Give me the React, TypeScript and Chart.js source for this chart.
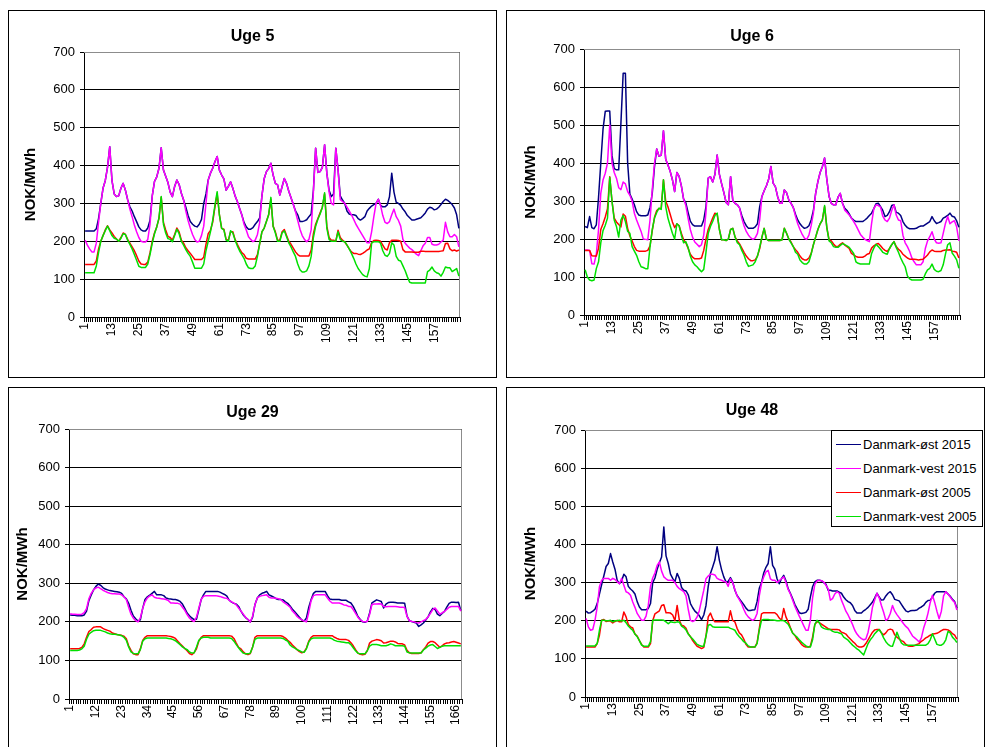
import React, { useEffect, useRef } from 'react';
import { Chart, registerables } from 'chart.js';

Chart.register(...registerables);

const FONT = 'Arial, "Liberation Sans", Helvetica, sans-serif';

// Hours of the week (categories)
const HOURS: string[] = Array.from({ length: 168 }, (_, i) => String(i + 1));

// Category labels that are printed on the x axis
const TICKS_STEP12 = ['1', '13', '25', '37', '49', '61', '73', '85', '97', '109', '121', '133', '145', '157'];
const TICKS_STEP11 = ['1', '12', '23', '34', '45', '56', '67', '78', '89', '100', '111', '122', '133', '144', '155', '166'];

const SERIES_LABELS = ['Danmark-øst 2015', 'Danmark-vest 2015', 'Danmark-øst 2005', 'Danmark-vest 2005'];
const SERIES_COLORS = ['#000080', '#FF00FF', '#FF0000', '#00E000'];

// ---- Uge 5 (NOK/MWh, hour 1..168) ----
const UGE5_OST_2015 = [
  227, 227, 227, 227, 227, 233, 260, 300, 340, 360, 395, 450, 360, 325, 318, 320, 340, 353, 335, 310, 291, 280, 265, 252,
  238, 230, 227, 227, 235, 256, 320, 358, 370, 393, 447, 388, 372, 355, 330, 318, 345, 362, 350, 327, 309, 290, 268, 252,
  245, 240, 238, 245, 258, 300, 325, 362, 380, 393, 410, 424, 388, 375, 365, 335, 345, 357, 340, 320, 305, 287, 270, 250,
  238, 232, 232, 236, 245, 252, 262, 320, 365, 384, 392, 406, 375, 353, 349, 322, 344, 366, 353, 332, 315, 298, 280, 270,
  252, 252, 254, 257, 265, 272, 335, 446, 382, 384, 395, 455, 380, 335, 318, 325, 446, 390, 320, 309, 300, 280, 272, 270,
  270, 268, 260, 256, 260, 265, 280, 287, 293, 297, 300, 311, 295, 291, 291, 296, 318, 380, 330, 303, 300, 295, 285, 278,
  268, 262, 256, 256, 258, 260, 262, 268, 275, 285, 290, 288, 283, 285, 290, 297, 305, 311, 308, 303, 297, 288, 270, 234,
];
const UGE5_VEST_2015 = [
  203, 190, 180, 172, 172, 195, 250, 300, 340, 360, 395, 450, 360, 325, 318, 320, 340, 353, 335, 310, 285, 265, 243, 225,
  210, 200, 198, 198, 205, 245, 320, 358, 370, 393, 447, 388, 372, 355, 330, 318, 345, 362, 350, 327, 309, 280, 255, 235,
  218, 205, 198, 200, 215, 240, 300, 362, 380, 393, 410, 424, 388, 375, 365, 335, 345, 357, 340, 320, 305, 287, 270, 245,
  230, 212, 205, 199, 203, 218, 250, 320, 365, 384, 392, 406, 375, 353, 349, 322, 344, 366, 353, 332, 315, 298, 278, 255,
  232, 215, 205, 199, 205, 230, 330, 446, 382, 384, 395, 455, 380, 330, 300, 296, 446, 390, 310, 305, 300, 290, 280, 270,
  258, 245, 235, 225, 215, 205, 196, 196, 225, 265, 300, 311, 295, 268, 250, 247, 252, 270, 285, 265, 255, 240, 205, 195,
  188, 182, 178, 172, 166, 162, 175, 188, 195, 210, 210, 192, 190, 190, 192, 198, 203, 250, 225, 212, 212, 218, 212, 185,
];
const UGE5_OST_2005 = [
  139, 139, 139, 139, 139, 148, 180, 200, 215, 230, 241, 230, 222, 213, 206, 200, 210, 222, 218, 205, 195, 185, 175, 162,
  148, 140, 139, 139, 145, 170, 200, 222, 238, 260, 316, 250, 230, 213, 210, 203, 218, 235, 225, 203, 195, 183, 175, 168,
  160, 152, 152, 152, 152, 158, 192, 220, 229, 250, 290, 325, 270, 234, 232, 205, 203, 225, 225, 205, 192, 180, 170, 165,
  155, 153, 153, 153, 153, 165, 194, 225, 235, 252, 270, 311, 240, 225, 203, 203, 225, 231, 215, 200, 192, 182, 172, 165,
  161, 161, 161, 161, 161, 177, 220, 245, 260, 275, 290, 325, 240, 210, 203, 203, 200, 229, 210, 203, 198, 190, 180, 172,
  168, 168, 166, 165, 168, 172, 177, 180, 196, 202, 203, 202, 200, 190, 180, 177, 196, 203, 203, 203, 202, 200, 178, 172,
  172, 172, 172, 171, 171, 171, 174, 174, 173, 173, 173, 173, 173, 173, 173, 174, 175, 194, 195, 180, 175, 177, 174, 177,
];
const UGE5_VEST_2005 = [
  117, 117, 117, 117, 117, 135, 170, 200, 215, 228, 240, 228, 215, 208, 206, 200, 208, 220, 218, 203, 192, 180, 165, 150,
  134, 131, 131, 131, 140, 165, 195, 220, 238, 262, 318, 245, 222, 207, 205, 199, 215, 232, 220, 200, 190, 178, 168, 160,
  145, 129, 129, 129, 129, 140, 175, 200, 225, 255, 295, 331, 270, 234, 230, 203, 200, 228, 222, 203, 188, 175, 165, 155,
  140, 130, 128, 128, 135, 160, 194, 225, 235, 252, 270, 316, 240, 222, 200, 200, 222, 228, 212, 196, 185, 172, 160, 140,
  125, 119, 119, 122, 135, 160, 210, 240, 258, 272, 290, 328, 235, 205, 200, 200, 200, 225, 205, 200, 199, 190, 180, 168,
  155, 140, 128, 120, 112, 108, 106, 128, 195, 199, 199, 199, 195, 175, 163, 160, 168, 196, 190, 160, 150, 148, 135, 122,
  106, 92, 90, 90, 90, 90, 90, 90, 90, 120, 124, 132, 122, 117, 115, 108, 118, 132, 130, 130, 120, 124, 128, 108,
];

// ---- Uge 6 ----
const UGE6_OST_2015 = [
  233, 230, 259, 230, 227, 237, 310, 400, 489, 536, 537, 537, 420, 385, 382, 382, 505, 636, 636, 400, 318, 305, 290, 272,
  263, 261, 261, 261, 263, 283, 320, 390, 437, 418, 420, 485, 410, 395, 378, 356, 325, 375, 365, 340, 305, 295, 270, 247,
  238, 234, 234, 234, 234, 250, 285, 360, 364, 350, 370, 421, 370, 345, 322, 296, 290, 364, 300, 294, 290, 282, 262, 246,
  235, 228, 228, 228, 232, 240, 285, 312, 327, 340, 357, 391, 347, 338, 312, 294, 294, 329, 322, 303, 294, 283, 265, 250,
  240, 233, 228, 230, 235, 250, 275, 320, 351, 375, 390, 413, 356, 312, 294, 290, 290, 310, 320, 294, 281, 275, 266, 255,
  250, 246, 246, 246, 246, 250, 255, 262, 268, 280, 293, 294, 285, 275, 259, 262, 272, 288, 290, 270, 268, 262, 246, 236,
  230, 227, 227, 227, 228, 232, 234, 234, 238, 242, 246, 259, 248, 241, 243, 246, 255, 258, 262, 268, 260, 258, 248, 231,
];
const UGE6_VEST_2015 = [
  171, 171, 170, 135, 134, 160, 225, 320, 355, 373, 400, 500, 400, 375, 360, 335, 330, 350, 345, 325, 315, 300, 268, 250,
  235, 220, 200, 199, 198, 250, 330, 400, 437, 418, 420, 485, 410, 395, 378, 356, 325, 375, 365, 340, 305, 288, 255, 225,
  205, 192, 186, 180, 185, 210, 270, 360, 364, 350, 370, 421, 370, 345, 322, 296, 290, 364, 300, 294, 290, 282, 255, 235,
  220, 210, 203, 199, 203, 215, 250, 312, 327, 340, 357, 391, 347, 338, 312, 294, 294, 329, 322, 303, 294, 283, 260, 240,
  225, 212, 202, 199, 210, 235, 268, 320, 351, 375, 390, 413, 356, 312, 294, 290, 290, 310, 320, 294, 276, 270, 263, 255,
  246, 236, 224, 212, 205, 199, 196, 193, 241, 280, 290, 288, 284, 260, 250, 246, 255, 275, 290, 263, 250, 248, 210, 190,
  180, 167, 150, 140, 132, 132, 132, 140, 175, 195, 206, 219, 200, 190, 189, 190, 215, 241, 259, 240, 245, 248, 232, 195,
];
const UGE6_OST_2005 = [
  170, 170, 170, 156, 155, 155, 175, 225, 240, 258, 280, 364, 300, 255, 245, 238, 232, 266, 260, 228, 208, 195, 180, 170,
  168, 168, 168, 168, 170, 182, 222, 257, 275, 280, 281, 356, 300, 285, 265, 245, 230, 240, 235, 215, 198, 190, 176, 160,
  152, 148, 148, 148, 150, 170, 200, 225, 240, 255, 268, 265, 225, 198, 198, 196, 200, 225, 228, 205, 195, 187, 176, 165,
  155, 148, 143, 143, 145, 155, 175, 205, 228, 200, 196, 196, 196, 196, 196, 196, 198, 228, 215, 200, 192, 180, 172, 165,
  155, 148, 145, 145, 150, 162, 185, 205, 225, 240, 250, 285, 230, 198, 195, 187, 180, 180, 186, 190, 184, 180, 175, 162,
  158, 154, 152, 152, 152, 155, 160, 162, 176, 182, 186, 188, 182, 175, 170, 167, 175, 185, 193, 180, 173, 168, 160, 155,
  150, 147, 147, 147, 146, 145, 146, 147, 152, 158, 166, 171, 168, 167, 167, 167, 170, 171, 171, 172, 168, 167, 165, 150,
];
const UGE6_VEST_2005 = [
  119, 100, 92, 90, 92, 122, 140, 190, 222, 236, 255, 362, 300, 250, 233, 205, 250, 262, 246, 220, 215, 180, 168, 157,
  140, 127, 125, 122, 122, 180, 225, 255, 270, 281, 278, 356, 285, 255, 235, 215, 200, 240, 235, 210, 190, 193, 178, 155,
  140, 132, 127, 120, 114, 120, 165, 215, 233, 246, 262, 268, 225, 198, 198, 196, 200, 225, 228, 205, 190, 185, 170, 158,
  140, 128, 130, 132, 140, 155, 178, 205, 228, 200, 196, 196, 196, 196, 196, 196, 198, 228, 215, 200, 190, 180, 165, 160,
  145, 138, 134, 134, 140, 160, 185, 205, 225, 240, 250, 288, 230, 195, 190, 180, 178, 178, 183, 188, 185, 182, 178, 170,
  162, 140, 136, 134, 134, 134, 134, 134, 162, 176, 186, 180, 173, 165, 162, 160, 175, 185, 193, 178, 165, 150, 138, 127,
  103, 95, 92, 92, 92, 92, 92, 94, 108, 119, 123, 134, 120, 115, 114, 117, 132, 160, 185, 190, 163, 155, 145, 123,
];

// ---- Uge 29 ----
const UGE29_OST_2015 = [
  218, 217, 217, 216, 216, 216, 218, 228, 255, 270, 283, 292, 298, 295, 289, 285, 283, 281, 280, 279, 278, 277, 274, 265,
  260, 248, 230, 215, 208, 202, 205, 235, 258, 265, 269, 274, 279, 270, 270, 270, 268, 262, 260, 259, 258, 258, 256, 253,
  246, 235, 223, 216, 210, 206, 207, 232, 258, 270, 279, 279, 279, 279, 279, 279, 277, 274, 271, 267, 256, 251, 248, 246,
  240, 228, 218, 211, 206, 200, 212, 245, 262, 270, 274, 276, 279, 270, 267, 264, 260, 258, 258, 257, 252, 248, 241, 233,
  226, 219, 212, 205, 202, 210, 238, 258, 274, 279, 279, 279, 279, 279, 268, 259, 258, 258, 258, 258, 256, 256, 256, 252,
  249, 240, 228, 214, 206, 200, 199, 202, 223, 249, 253, 257, 255, 253, 236, 246, 250, 251, 251, 250, 249, 249, 249, 248,
  215, 203, 201, 199, 197, 188, 192, 197, 205, 213, 226, 235, 232, 220, 216, 222, 227, 238, 248, 251, 251, 250, 251, 229,
];
const UGE29_VEST_2015 = [
  221, 220, 220, 219, 219, 220, 224, 234, 260, 274, 283, 288, 290, 286, 282, 279, 276, 274, 273, 273, 272, 272, 270, 265,
  258, 238, 220, 210, 203, 200, 210, 235, 252, 262, 267, 270, 264, 262, 261, 260, 259, 258, 255, 249, 249, 248, 248, 246,
  238, 230, 219, 210, 204, 201, 212, 236, 258, 266, 268, 268, 268, 268, 268, 267, 266, 264, 262, 261, 256, 252, 249, 244,
  236, 228, 220, 212, 206, 200, 215, 245, 262, 266, 268, 269, 270, 264, 262, 262, 261, 260, 258, 252, 248, 243, 238, 228,
  222, 214, 209, 205, 202, 200, 225, 255, 268, 270, 270, 270, 270, 270, 262, 254, 249, 249, 249, 249, 247, 244, 243, 240,
  240, 232, 222, 212, 205, 201, 200, 201, 219, 245, 246, 246, 247, 246, 240, 239, 240, 240, 240, 240, 239, 238, 238, 237,
  214, 203, 201, 200, 198, 197, 200, 203, 206, 213, 222, 232, 236, 228, 220, 223, 227, 232, 238, 240, 240, 240, 240, 228,
];
const UGE29_OST_2005 = [
  130, 130, 130, 130, 131, 134, 143, 160, 175, 180, 186, 187, 187, 187, 183, 180, 178, 176, 171, 169, 167, 166, 165, 163,
  156, 138, 126, 117, 115, 115, 130, 152, 160, 164, 164, 164, 164, 164, 164, 164, 164, 164, 163, 162, 160, 157, 150, 143,
  137, 131, 125, 118, 115, 120, 130, 150, 160, 164, 164, 164, 164, 164, 164, 164, 164, 164, 164, 164, 164, 163, 157, 145,
  134, 130, 122, 117, 115, 118, 135, 160, 164, 164, 164, 164, 164, 164, 164, 164, 164, 164, 164, 162, 158, 152, 147, 140,
  134, 128, 123, 120, 122, 132, 150, 160, 164, 164, 164, 164, 164, 164, 164, 164, 164, 160, 157, 155, 154, 154, 154, 152,
  146, 138, 128, 119, 116, 115, 116, 125, 145, 150, 152, 154, 153, 151, 145, 146, 148, 150, 150, 148, 144, 143, 143, 140,
  126, 120, 118, 118, 118, 118, 120, 128, 135, 145, 149, 149, 146, 140, 134, 138, 143, 145, 146, 148, 149, 147, 145, 143,
];
const UGE29_VEST_2005 = [
  126, 126, 126, 126, 127, 130, 137, 155, 168, 173, 177, 178, 178, 178, 176, 174, 171, 169, 168, 168, 167, 166, 164, 160,
  152, 135, 122, 118, 117, 117, 128, 150, 156, 158, 158, 158, 158, 158, 158, 158, 158, 158, 157, 156, 154, 151, 146, 141,
  135, 131, 128, 122, 119, 120, 135, 152, 158, 160, 160, 160, 158, 158, 158, 158, 158, 158, 158, 158, 158, 157, 150, 141,
  133, 125, 119, 117, 117, 119, 135, 155, 158, 158, 158, 158, 158, 158, 158, 158, 158, 158, 158, 157, 153, 150, 140, 135,
  132, 128, 125, 122, 121, 130, 148, 156, 158, 158, 158, 158, 158, 158, 158, 158, 156, 152, 150, 149, 148, 147, 146, 146,
  141, 133, 125, 119, 117, 117, 117, 125, 137, 141, 141, 141, 140, 138, 138, 138, 140, 143, 141, 138, 138, 138, 138, 137,
  122, 120, 119, 119, 119, 119, 119, 127, 132, 137, 140, 141, 136, 131, 134, 137, 138, 138, 138, 138, 138, 138, 138, 138,
];

// ---- Uge 48 ----
const UGE48_OST_2015 = [
  225, 220, 221, 225, 230, 245, 270, 295, 318, 342, 350, 376, 354, 335, 306, 297, 305, 322, 315, 290, 283, 278, 270, 250,
  236, 229, 229, 229, 232, 245, 300, 312, 335, 352, 367, 446, 370, 350, 322, 311, 302, 324, 311, 287, 280, 278, 268, 245,
  234, 225, 220, 213, 203, 215, 240, 290, 324, 341, 359, 394, 359, 334, 315, 302, 303, 313, 302, 280, 266, 258, 250, 242,
  233, 227, 227, 228, 229, 250, 285, 300, 325, 340, 350, 394, 345, 335, 310, 297, 310, 319, 305, 284, 272, 258, 243, 232,
  221, 219, 220, 222, 230, 262, 289, 302, 306, 306, 305, 300, 296, 280, 280, 278, 278, 278, 275, 272, 262, 255, 250, 247,
  240, 227, 220, 220, 220, 226, 230, 235, 242, 249, 260, 272, 262, 254, 255, 265, 272, 276, 268, 256, 254, 252, 243, 234,
  226, 223, 226, 227, 227, 228, 233, 236, 240, 248, 253, 254, 262, 272, 276, 276, 276, 276, 276, 270, 264, 256, 250, 233,
];
const UGE48_VEST_2015 = [
  206, 184, 175, 177, 201, 236, 289, 306, 311, 311, 311, 306, 311, 308, 302, 297, 311, 293, 276, 273, 267, 249, 235, 219,
  210, 201, 201, 212, 240, 290, 312, 325, 345, 354, 330, 315, 310, 306, 306, 306, 300, 290, 284, 280, 276, 265, 230, 201,
  198, 201, 210, 227, 254, 280, 310, 317, 322, 322, 320, 311, 308, 306, 303, 302, 290, 310, 300, 282, 265, 255, 245, 230,
  218, 210, 205, 201, 205, 219, 265, 297, 315, 328, 332, 310, 306, 306, 300, 305, 310, 315, 300, 282, 270, 254, 238, 225,
  212, 200, 187, 175, 175, 201, 260, 295, 304, 306, 305, 302, 293, 284, 254, 258, 270, 276, 272, 254, 240, 225, 215, 203,
  190, 175, 165, 158, 153, 150, 152, 170, 200, 236, 255, 272, 260, 240, 222, 201, 205, 219, 240, 225, 216, 208, 200, 192,
  185, 180, 170, 160, 155, 150, 144, 155, 180, 198, 220, 248, 267, 248, 225, 205, 225, 265, 276, 270, 262, 254, 248, 228,
];
const UGE48_OST_2005 = [
  131, 131, 131, 131, 131, 140, 162, 201, 203, 198, 199, 199, 194, 198, 201, 197, 197, 223, 210, 190, 184, 181, 165, 160,
  148, 138, 131, 131, 131, 140, 200, 218, 222, 226, 240, 242, 221, 221, 220, 215, 200, 240, 201, 188, 186, 180, 166, 158,
  148, 140, 133, 130, 127, 130, 160, 210, 220, 205, 197, 197, 197, 197, 197, 197, 197, 226, 201, 197, 180, 168, 163, 152,
  138, 131, 131, 131, 131, 142, 180, 218, 221, 221, 221, 221, 221, 221, 216, 207, 201, 232, 210, 197, 182, 168, 162, 152,
  146, 138, 133, 131, 131, 133, 157, 190, 198, 195, 191, 187, 183, 179, 177, 177, 177, 177, 176, 170, 168, 165, 158, 152,
  146, 141, 134, 131, 131, 133, 140, 150, 160, 170, 176, 177, 177, 168, 163, 168, 176, 178, 176, 163, 157, 152, 148, 145,
  138, 134, 133, 133, 135, 138, 140, 146, 150, 155, 158, 162, 165, 166, 167, 170, 174, 177, 177, 176, 172, 166, 162, 152,
];
const UGE48_VEST_2005 = [
  134, 134, 134, 134, 134, 140, 175, 201, 201, 200, 200, 201, 197, 200, 200, 201, 199, 201, 195, 186, 180, 175, 165, 158,
  148, 136, 133, 133, 133, 145, 201, 202, 202, 202, 202, 201, 197, 192, 197, 196, 195, 197, 196, 186, 182, 176, 165, 158,
  152, 145, 138, 135, 133, 133, 160, 188, 190, 184, 183, 183, 183, 183, 183, 183, 183, 180, 178, 175, 165, 158, 152, 145,
  141, 134, 131, 131, 131, 140, 175, 201, 203, 203, 203, 202, 202, 201, 200, 200, 201, 200, 196, 191, 180, 168, 162, 157,
  150, 144, 139, 134, 131, 131, 150, 190, 201, 195, 184, 180, 178, 177, 177, 172, 170, 170, 168, 166, 157, 153, 149, 142,
  136, 131, 126, 122, 116, 110, 125, 140, 150, 157, 166, 172, 177, 168, 155, 145, 138, 134, 133, 150, 170, 155, 142, 137,
  136, 136, 136, 136, 136, 136, 136, 136, 136, 136, 140, 150, 166, 152, 138, 136, 136, 140, 150, 172, 168, 157, 151, 143,
];

type Box = { x: number; y: number; w: number; h: number };
type Area = { l: number; t: number; r: number; b: number };
type PanelSpec = {
  title: string;
  series: number[][];
  ticks: string[];
  box: Box;
  plot: Area;
  titleY: number;
  yTitleX: number;
  leftInset: number;
};

const PANELS: PanelSpec[] = [
  {
    title: 'Uge 5',
    series: [UGE5_OST_2015, UGE5_VEST_2015, UGE5_OST_2005, UGE5_VEST_2005],
    ticks: TICKS_STEP12,
    box: { x: 8, y: 10, w: 489, h: 368 },
    plot: { l: 84, t: 52, r: 460, b: 317 },
    titleY: 37,
    yTitleX: 31,
    leftInset: 0,
  },
  {
    title: 'Uge 6',
    series: [UGE6_OST_2015, UGE6_VEST_2015, UGE6_OST_2005, UGE6_VEST_2005],
    ticks: TICKS_STEP12,
    box: { x: 506, y: 10, w: 479, h: 368 },
    plot: { l: 584, t: 49, r: 960, b: 315 },
    titleY: 37,
    yTitleX: 531,
    leftInset: 13,
  },
  {
    title: 'Uge 29',
    series: [UGE29_OST_2015, UGE29_VEST_2015, UGE29_OST_2005, UGE29_VEST_2005],
    ticks: TICKS_STEP11,
    box: { x: 8, y: 387, w: 489, h: 370 },
    plot: { l: 69, t: 429, r: 462, b: 699 },
    titleY: 413,
    yTitleX: 23,
    leftInset: 0,
  },
  {
    title: 'Uge 48',
    series: [UGE48_OST_2015, UGE48_VEST_2015, UGE48_OST_2005, UGE48_VEST_2005],
    ticks: TICKS_STEP12,
    box: { x: 506, y: 387, w: 479, h: 370 },
    plot: { l: 585, t: 430, r: 958, b: 697 },
    titleY: 411,
    yTitleX: 531,
    leftInset: 13,
  },
];

// Grey frame on the top and right edge of the plot area
const plotFrame = {
  id: 'plotFrame',
  beforeDatasetsDraw(chart: any) {
    const { ctx, chartArea: a } = chart;
    const top = Math.round(a.top) + 0.5;
    const right = Math.round(a.right) - 0.5;
    ctx.save();
    ctx.strokeStyle = '#8c8c8c';
    ctx.lineWidth = 1;
    ctx.beginPath();
    ctx.moveTo(Math.round(a.left), top);
    ctx.lineTo(right, top);
    ctx.lineTo(right, Math.round(a.bottom));
    ctx.stroke();
    ctx.restore();
  },
};

function Panel({ spec }: { spec: PanelSpec }) {
  const ref = useRef<HTMLCanvasElement>(null);
  const cx = spec.box.x + 1;
  const cy = spec.box.y + 1;
  const cw = spec.box.w - 2;
  const ch = spec.box.h - 2;

  useEffect(() => {
    const { plot, ticks, leftInset } = spec;
    const yAxisW = plot.l - cx - leftInset;
    const xAxisH = ch - (plot.b - cy);
    const rightGap = cw - (plot.r - cx);
    const titleSize = 16;
    const titleLH = titleSize * 1.2;
    const titlePadTop = spec.titleY - cy - titleLH / 2;
    const titlePadBottom = plot.t - cy - titlePadTop - titleLH;
    const yTitleSize = 15;
    const yTitlePad = spec.yTitleX - cx - leftInset - (yTitleSize * 1.2) / 2;

    const chart = new Chart(ref.current as HTMLCanvasElement, {
      type: 'line',
      data: {
        labels: HOURS,
        datasets: spec.series.map((values, i) => ({
          label: SERIES_LABELS[i],
          data: values,
          borderColor: SERIES_COLORS[i],
          backgroundColor: SERIES_COLORS[i],
          borderWidth: 1.5,
          borderJoinStyle: 'round' as const,
          pointRadius: 0,
          tension: 0,
          fill: false,
          order: 4 - i,
        })),
      },
      options: {
        responsive: false,
        maintainAspectRatio: false,
        animation: false,
        events: [],
        layout: { padding: { left: leftInset, right: 0, top: 0, bottom: 0 } },
        plugins: {
          legend: { display: false },
          tooltip: { enabled: false },
          title: {
            display: true,
            text: spec.title,
            color: '#000',
            font: { family: FONT, size: titleSize, weight: 'bold', lineHeight: 1.2 },
            padding: { top: titlePadTop, bottom: titlePadBottom },
          },
        },
        scales: {
          x: {
            type: 'category',
            offset: true,
            grid: {
              display: true,
              drawOnChartArea: false,
              drawTicks: true,
              tickLength: 5,
              color: '#000',
              offset: true,
            },
            border: { display: true, color: '#000', width: 1 },
            ticks: {
              autoSkip: false,
              minRotation: 90,
              maxRotation: 90,
              padding: 1,
              color: '#000',
              font: { family: FONT, size: 12 },
              callback: function (this: any, value: any) {
                const lab = this.getLabelForValue(value);
                return ticks.includes(lab) ? lab : '';
              },
            },
            afterFit: (s: any) => {
              s.height = xAxisH;
            },
          },
          y: {
            type: 'linear',
            min: 0,
            max: 700,
            grid: {
              color: '#000',
              tickColor: '#000',
              tickLength: 4,
              drawTicks: true,
            },
            border: { display: true, color: '#000', width: 1 },
            ticks: {
              stepSize: 100,
              color: '#000',
              padding: 5,
              font: { family: FONT, size: 13 },
            },
            title: {
              display: true,
              text: 'NOK/MWh',
              color: '#000',
              font: { family: FONT, size: yTitleSize, weight: 'bold', lineHeight: 1.2 },
              padding: { top: yTitlePad, bottom: 0 },
            },
            afterFit: (s: any) => {
              s.width = yAxisW;
            },
          },
          gap: {
            type: 'linear',
            position: 'right',
            display: true,
            grid: { display: false },
            border: { display: false },
            ticks: { display: false },
            afterFit: (s: any) => {
              s.width = rightGap;
            },
          },
        },
      },
      plugins: [plotFrame],
    } as any);
    return () => chart.destroy();
  }, [spec]);

  return (
    <div
      style={{
        position: 'absolute',
        left: spec.box.x,
        top: spec.box.y,
        width: spec.box.w,
        height: spec.box.h,
        border: '1px solid #000',
        boxSizing: 'border-box',
        background: '#fff',
      }}
    >
      <canvas ref={ref} width={cw} height={ch} style={{ display: 'block', width: cw, height: ch }} />
    </div>
  );
}

function Legend() {
  const rowTops = [5, 29, 53, 77];
  return (
    <div
      style={{
        position: 'absolute',
        left: 831,
        top: 430,
        width: 152,
        height: 97,
        border: '1px solid #000',
        boxSizing: 'border-box',
        background: '#fff',
        fontFamily: FONT,
        fontSize: 13,
        color: '#000',
      }}
    >
      {SERIES_LABELS.map((lab, i) => (
        <div
          key={lab}
          style={{ position: 'absolute', left: 4, top: rowTops[i], height: 17, display: 'flex', alignItems: 'center', whiteSpace: 'nowrap' }}
        >
          <span style={{ display: 'inline-block', width: 25, height: 1.5, background: SERIES_COLORS[i], marginRight: 2 }} />
          <span>{lab}</span>
        </div>
      ))}
    </div>
  );
}

export default function App() {
  return (
    <div
      style={{
        position: 'fixed',
        left: 0,
        top: 0,
        width: 986,
        height: 747,
        overflow: 'hidden',
        background: '#fff',
      }}
    >
      {PANELS.map((p) => (
        <Panel key={p.title} spec={p} />
      ))}
      <Legend />
    </div>
  );
}
